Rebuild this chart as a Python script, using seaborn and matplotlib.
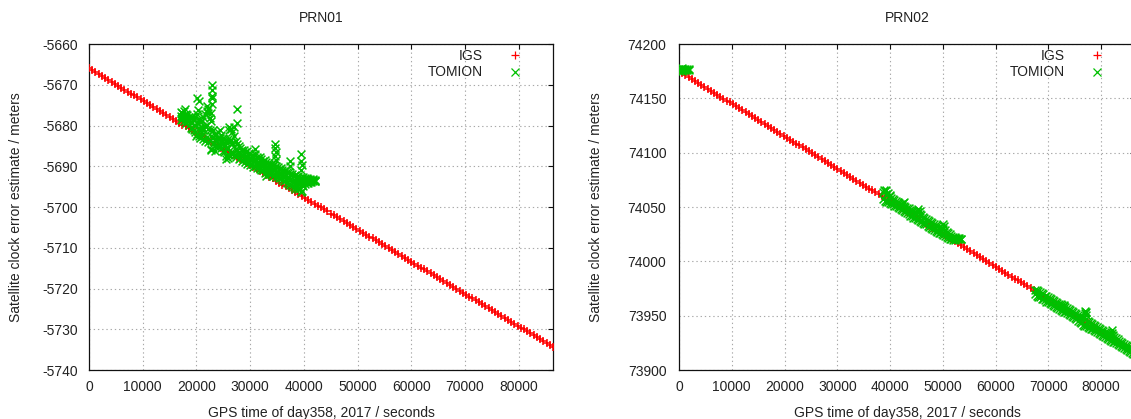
import numpy as np
import pandas as pd
import matplotlib
matplotlib.use("Agg")
import matplotlib.pyplot as plt
from matplotlib.lines import Line2D
import seaborn as sns

# ---------------- data ----------------
titles = ["PRN01", "PRN02"]
xlabel = "GPS time of day358, 2017 / seconds"
ylabel = "Satellite clock error estimate / meters"
series_names = ["IGS", "TOMION"]
x_ticks = [0, 10000, 20000, 30000, 40000, 50000, 60000, 70000, 80000]
y_ticks_01 = [-5740, -5730, -5720, -5710, -5700, -5690, -5680, -5670, -5660]
y_ticks_02 = [73900, 73950, 74000, 74050, 74100, 74150, 74200]

# IGS epochs: every 600 s over the day
igs_t = np.arange(0, 86401, 600)

igs_01 = [
    -5666.0, -5666.5, -5666.9, -5667.4, -5667.9, -5668.4, -5668.8, -5669.3, -5669.8, -5670.3,
    -5670.7, -5671.2, -5671.7, -5672.2, -5672.6, -5673.1, -5673.6, -5674.1, -5674.5, -5675.0,
    -5675.5, -5676.0, -5676.4, -5676.9, -5677.4, -5677.9, -5678.3, -5678.8, -5679.3, -5679.8,
    -5680.2, -5680.7, -5681.2, -5681.7, -5682.1, -5682.6, -5683.1, -5683.5, -5684.0, -5684.5,
    -5685.0, -5685.4, -5685.9, -5686.4, -5686.9, -5687.3, -5687.8, -5688.3, -5688.8, -5689.2,
    -5689.7, -5690.2, -5690.7, -5691.1, -5691.6, -5692.1, -5692.6, -5693.0, -5693.5, -5694.0,
    -5694.5, -5694.9, -5695.4, -5695.9, -5696.4, -5696.8, -5697.3, -5697.8, -5698.3, -5698.7,
    -5699.2, -5699.7, -5700.1, -5700.6, -5701.1, -5701.6, -5702.0, -5702.5, -5703.0, -5703.5,
    -5703.9, -5704.4, -5704.9, -5705.4, -5705.8, -5706.3, -5706.8, -5707.3, -5707.7, -5708.2,
    -5708.7, -5709.2, -5709.6, -5710.1, -5710.6, -5711.1, -5711.5, -5712.0, -5712.5, -5713.0,
    -5713.4, -5713.9, -5714.4, -5714.9, -5715.3, -5715.8, -5716.3, -5716.8, -5717.2, -5717.7,
    -5718.2, -5718.6, -5719.1, -5719.6, -5720.1, -5720.5, -5721.0, -5721.5, -5722.0, -5722.4,
    -5722.9, -5723.4, -5723.9, -5724.3, -5724.8, -5725.3, -5725.8, -5726.2, -5726.7, -5727.2,
    -5727.7, -5728.1, -5728.6, -5729.1, -5729.6, -5730.0, -5730.5, -5731.0, -5731.5, -5731.9,
    -5732.4, -5732.9, -5733.4, -5733.8, -5734.3,
]

igs_02 = [
    74175.0, 74173.2, 74171.4, 74169.6, 74167.8, 74166.0, 74164.2, 74162.4, 74160.6, 74158.8,
    74157.0, 74155.2, 74153.4, 74151.6, 74149.8, 74148.0, 74146.2, 74144.4, 74142.6, 74140.8,
    74139.0, 74137.2, 74135.4, 74133.6, 74131.8, 74130.0, 74128.2, 74126.4, 74124.6, 74122.8,
    74121.0, 74119.2, 74117.4, 74115.6, 74113.8, 74112.0, 74110.2, 74108.4, 74106.6, 74104.8,
    74103.0, 74101.2, 74099.4, 74097.6, 74095.8, 74094.0, 74092.2, 74090.4, 74088.6, 74086.8,
    74085.0, 74083.2, 74081.4, 74079.6, 74077.8, 74076.0, 74074.2, 74072.4, 74070.6, 74068.8,
    74067.0, 74065.2, 74063.4, 74061.6, 74059.8, 74058.0, 74056.2, 74054.4, 74052.6, 74050.8,
    74049.0, 74047.2, 74045.4, 74043.6, 74041.8, 74040.0, 74038.2, 74036.4, 74034.6, 74032.8,
    74031.0, 74029.2, 74027.4, 74025.6, 74023.8, 74022.0, 74020.2, 74018.4, 74016.6, 74014.8,
    74013.0, 74011.2, 74009.4, 74007.6, 74005.8, 74004.0, 74002.2, 74000.4, 73998.6, 73996.8,
    73995.0, 73993.2, 73991.4, 73989.6, 73987.8, 73986.0, 73984.2, 73982.4, 73980.6, 73978.8,
    73977.0, 73975.2, 73973.4, 73971.6, 73969.8, 73968.0, 73966.2, 73964.4, 73962.6, 73960.8,
    73959.0, 73957.2, 73955.4, 73953.6, 73951.8, 73950.0, 73948.2, 73946.4, 73944.6, 73942.8,
    73941.0, 73939.2, 73937.4, 73935.6, 73933.8, 73932.0, 73930.2, 73928.4, 73926.6, 73924.8,
    73923.0, 73921.2, 73919.4, 73917.6, 73915.8,
]

# TOMION PRN01: epochs every 300 s, upper edge / middle / lower edge of the scatter band
tom01_t = np.arange(17100, 42001, 300)
tom01_hi = [
    -5676.8, -5677.0, -5676.5, -5677.2, -5677.4, -5677.8, -5678.0, -5677.9, -5678.6, -5677.8,
    -5677.2, -5678.5, -5679.2, -5678.8, -5678.0, -5677.2, -5676.4, -5677.0, -5678.2, -5679.0,
    -5681.0, -5682.0, -5682.4, -5681.6, -5681.2, -5682.3, -5683.0, -5683.4, -5684.0, -5683.2,
    -5681.0, -5680.8, -5681.6, -5682.6, -5683.8, -5684.6, -5685.0, -5685.6, -5685.9, -5686.0,
    -5686.4, -5686.2, -5686.8, -5687.0, -5687.2, -5687.6, -5686.9, -5687.8, -5688.0, -5687.7,
    -5688.3, -5688.6, -5688.4, -5689.0, -5689.2, -5689.5, -5689.4, -5689.8, -5689.6, -5690.0,
    -5690.3, -5690.6, -5690.4, -5690.9, -5691.2, -5691.0, -5691.5, -5691.3, -5691.8, -5692.0,
    -5692.3, -5692.1, -5692.6, -5692.4, -5692.8, -5693.0, -5692.7, -5693.0, -5692.9, -5693.2,
    -5693.1, -5693.3, -5693.2, -5693.4,
]
tom01_mid = [
    -5677.6, -5677.9, -5677.5, -5678.4, -5678.1, -5678.9, -5679.1, -5679.5, -5679.8, -5679.9,
    -5679.4, -5680.6, -5681.0, -5680.4, -5681.0, -5680.2, -5679.8, -5680.8, -5681.2, -5682.6,
    -5683.0, -5683.4, -5683.6, -5683.2, -5683.0, -5684.0, -5684.4, -5685.0, -5685.6, -5685.4,
    -5684.0, -5683.5, -5684.2, -5685.0, -5685.8, -5685.9, -5686.6, -5686.9, -5687.2, -5687.1,
    -5687.7, -5687.8, -5687.9, -5688.4, -5688.3, -5688.8, -5688.5, -5689.1, -5689.0, -5689.3,
    -5689.6, -5689.8, -5690.0, -5690.6, -5690.3, -5690.7, -5690.8, -5691.0, -5690.9, -5691.3,
    -5691.4, -5691.8, -5691.6, -5692.1, -5692.4, -5692.2, -5692.8, -5692.8, -5693.2, -5693.5,
    -5693.8, -5693.7, -5693.8, -5694.0, -5694.1, -5694.4, -5693.8, -5693.7, -5693.5, -5693.6,
    -5693.5, -5693.5, -5693.4, -5693.5,
]
tom01_lo = [
    -5678.6, -5678.4, -5678.9, -5679.3, -5679.0, -5679.8, -5680.5, -5680.8, -5681.2, -5681.6,
    -5682.0, -5682.6, -5683.0, -5682.4, -5683.4, -5683.8, -5682.9, -5684.1, -5683.5, -5685.8,
    -5684.6, -5684.9, -5685.2, -5685.0, -5684.7, -5685.6, -5686.2, -5686.6, -5687.4, -5688.0,
    -5687.2, -5686.4, -5686.9, -5687.3, -5687.7, -5687.0, -5688.2, -5688.0, -5688.6, -5688.3,
    -5688.9, -5689.4, -5689.0, -5689.8, -5689.5, -5690.1, -5689.9, -5690.4, -5690.2, -5690.7,
    -5691.0, -5690.8, -5691.6, -5692.5, -5691.4, -5691.8, -5692.0, -5692.3, -5692.1, -5692.6,
    -5692.4, -5693.0, -5692.8, -5693.3, -5693.6, -5693.4, -5694.0, -5694.3, -5694.6, -5694.9,
    -5695.2, -5695.5, -5695.0, -5695.7, -5695.3, -5696.0, -5694.8, -5694.4, -5694.1, -5694.0,
    -5693.9, -5693.8, -5693.7, -5693.6,
]
tom01_out_t = [17900, 20200, 20400, 20300, 21900, 22100, 22900, 22900, 22900, 22950, 22900,
               22800, 22700, 27500, 27500, 26000, 27000, 31000, 34700, 34700, 34800, 34700,
               34800, 37400, 37500, 39500, 39500, 39600, 39400, 39500, 20000, 23500, 25600]
tom01_out_v = [-5676.0, -5673.3, -5674.0, -5676.3, -5675.3, -5676.0, -5670.0, -5671.3, -5672.8,
               -5673.2, -5674.8, -5677.0, -5685.9, -5676.0, -5679.5, -5680.3, -5680.4, -5685.8,
               -5684.5, -5685.5, -5686.5, -5687.5, -5688.5, -5688.6, -5690.0, -5687.0, -5688.6,
               -5689.6, -5690.8, -5696.3, -5682.5, -5686.3, -5688.3]

# TOMION PRN02: three arcs, epochs every 300 s
tom02_t = np.concatenate([np.arange(0, 1801, 300),
                          np.arange(38700, 53401, 300),
                          np.arange(67500, 86401, 300)])
tom02_hi = [
    74177.4, 74177.0, 74177.6, 74176.9, 74177.3, 74177.1, 74176.8,
    74063.5, 74064.8, 74062.0, 74063.2, 74060.4, 74058.7, 74057.8, 74056.5, 74055.9, 74054.6,
    74053.8, 74053.2, 74052.0, 74051.3, 74050.2, 74049.4, 74048.8, 74047.6, 74047.0, 74046.2,
    74045.8, 74046.5, 74045.0, 74043.6, 74042.2, 74040.8, 74039.5, 74038.6, 74037.8, 74036.9,
    74036.2, 74035.3, 74034.6, 74033.5, 74032.8, 74032.0, 74031.2, 74030.6, 74029.5, 74028.4,
    74027.3, 74026.0, 74024.8, 74023.5, 74022.6, 74022.0, 74021.6, 74021.4, 74021.2, 74021.0,
    73974.0, 73973.2, 73972.5, 73971.4, 73970.6, 73969.8, 73968.5, 73967.9, 73967.2, 73966.0,
    73965.2, 73964.6, 73963.5, 73962.6, 73961.9, 73961.0, 73960.3, 73959.4, 73958.5, 73957.6,
    73956.8, 73955.9, 73955.0, 73954.1, 73953.2, 73952.4, 73951.5, 73950.6, 73949.8, 73949.0,
    73948.5, 73947.8, 73946.5, 73945.2, 73944.0, 73943.2, 73942.4, 73941.6, 73940.8, 73939.8,
    73938.9, 73938.0, 73937.1, 73936.2, 73935.4, 73934.6, 73933.8, 73933.0, 73932.6, 73931.8,
    73930.6, 73929.4, 73928.2, 73927.0, 73926.1, 73925.2, 73924.3, 73923.4, 73922.5, 73921.6,
    73920.7, 73919.8, 73918.9, 73918.0,
]
tom02_lo = [
    74175.6, 74176.0, 74175.4, 74176.2, 74175.8, 74176.1, 74175.9,
    74057.0, 74055.6, 74054.8, 74054.2, 74053.5, 74053.0, 74052.4, 74051.3, 74050.6, 74049.9,
    74049.0, 74048.1, 74047.4, 74046.5, 74045.2, 74044.3, 74043.2, 74042.0, 74041.5, 74040.3,
    74039.6, 74039.0, 74038.2, 74037.4, 74036.5, 74035.3, 74034.8, 74033.9, 74032.6, 74031.8,
    74030.9, 74029.8, 74029.0, 74028.2, 74027.3, 74026.4, 74025.8, 74024.9, 74024.0, 74023.2,
    74022.5, 74021.6, 74020.8, 74020.2, 74019.8, 74020.0, 74020.2, 74020.3, 74020.5, 74020.6,
    73969.5, 73968.4, 73967.6, 73966.8, 73965.6, 73964.9, 73964.0, 73963.0, 73962.3, 73961.4,
    73960.8, 73959.7, 73958.9, 73958.2, 73957.3, 73956.4, 73955.6, 73954.7, 73953.8, 73953.0,
    73952.1, 73951.2, 73950.4, 73949.6, 73948.4, 73947.5, 73946.8, 73945.5, 73944.2, 73942.8,
    73941.6, 73940.8, 73940.2, 73939.6, 73938.8, 73938.0, 73937.4, 73936.6, 73935.7, 73935.0,
    73934.2, 73933.3, 73932.4, 73931.5, 73930.6, 73929.7, 73928.8, 73927.9, 73927.0, 73926.2,
    73925.4, 73924.5, 73923.6, 73922.6, 73921.8, 73920.9, 73920.0, 73919.1, 73918.2, 73917.3,
    73916.4, 73915.5, 73914.6, 73913.7,
]
tom02_out_t = [38900, 39300, 40000, 42600, 42500, 45300, 45600, 50100, 50200,
               76900, 77000, 77100, 77200, 82000, 82100, 73000]
tom02_out_v = [74066.0, 74065.5, 74061.0, 74055.0, 74053.5, 74048.0, 74046.5, 74034.0, 74032.5,
               73954.5, 73952.0, 73950.5, 73953.0, 73936.5, 73934.5, 73959.5]

# ---------------- style ----------------
RED = "#ff0000"
GREEN = "#00c000"
TEXT = "#222222"

sns.set_style("white")
plt.rcParams["font.family"] = ["Liberation Sans", "DejaVu Sans"]
plt.rcParams["axes.unicode_minus"] = False
plt.rcParams["font.size"] = 10

fig = plt.figure(figsize=(11.31, 4.19), dpi=100)
W, H = 1131.0, 419.0
ax1 = fig.add_axes([89 / W, (H - 370) / H, 464 / W, 326 / H])
ax2 = fig.add_axes([679 / W, (H - 370) / H, 456 / W, 326 / H])


def make_frames(igs_vals, tom_t, tom_rows, out_t, out_v):
    igs = pd.DataFrame({"t": igs_t, "v": igs_vals})
    ts = [tom_t] * len(tom_rows) + [out_t]
    vs = list(tom_rows) + [out_v]
    tom = pd.DataFrame({"t": np.concatenate(ts), "v": np.concatenate(vs)})
    return igs, tom


panels = [
    (ax1, titles[0],
     make_frames(igs_01, tom01_t, [tom01_hi, tom01_mid, tom01_lo], tom01_out_t, tom01_out_v),
     y_ticks_01, (-5740, -5660), 13.5, 8),
    (ax2, titles[1],
     make_frames(igs_02, tom02_t, [tom02_hi, tom02_lo], tom02_out_t, tom02_out_v),
     y_ticks_02, (73900, 74200), 17.5, 9),
]

for ax, title, (igs, tom), yt, ylim, ylp, ypad in panels:
    sns.scatterplot(data=igs, x="t", y="v", ax=ax, marker="+", color=RED,
                    s=32, linewidth=1.1, legend=False, zorder=3)
    sns.scatterplot(data=tom, x="t", y="v", ax=ax, marker="x", color=GREEN,
                    s=32, linewidth=1.1, legend=False, zorder=4)
    ax.set_xlim(0, 86400)
    ax.set_ylim(*ylim)
    ax.set_xticks(x_ticks)
    ax.set_yticks(yt)
    ax.set_xticklabels([str(v) for v in x_ticks])
    ax.set_yticklabels([str(v) for v in yt])
    ax.grid(True, color="#a8a8a8", linestyle=(0, (1.2, 2.6)), linewidth=0.8)
    ax.set_axisbelow(True)
    for sp in ax.spines.values():
        sp.set_color("#111111")
        sp.set_linewidth(0.9)
        sp.set_visible(True)
    ax.tick_params(direction="in", length=3.5, width=0.8, color="#111111",
                   top=True, right=True, labelcolor=TEXT, labelsize=10)
    ax.tick_params(axis="x", pad=7)
    ax.tick_params(axis="y", pad=ypad)
    ax.set_title(title, fontsize=10, color=TEXT, pad=16)
    ax.set_xlabel(xlabel, fontsize=10, color=TEXT, labelpad=9)
    ax.set_ylabel(ylabel, fontsize=10, color=TEXT, labelpad=ylp)

    h_igs = Line2D([], [], ls="none", marker="+", color=RED, ms=6, mew=0.9)
    h_tom = Line2D([], [], ls="none", marker="x", color=GREEN, ms=5.5, mew=0.9)
    width_px = ax.get_position().width * W
    xr = 1 - 31 / width_px
    common = dict(loc="upper right", bbox_transform=ax.transAxes, frameon=False,
                  markerfirst=False, handlelength=1.0, handletextpad=1.8,
                  borderpad=0, borderaxespad=0, fontsize=10, labelcolor=TEXT)
    leg1 = ax.legend([h_igs], [series_names[0]], bbox_to_anchor=(xr, 1 - 4.5 / 326), **common)
    ax.add_artist(leg1)
    ax.legend([h_tom], [series_names[1]], bbox_to_anchor=(xr, 1 - 21.5 / 326), **common)

fig.savefig("out.png", dpi=100)
